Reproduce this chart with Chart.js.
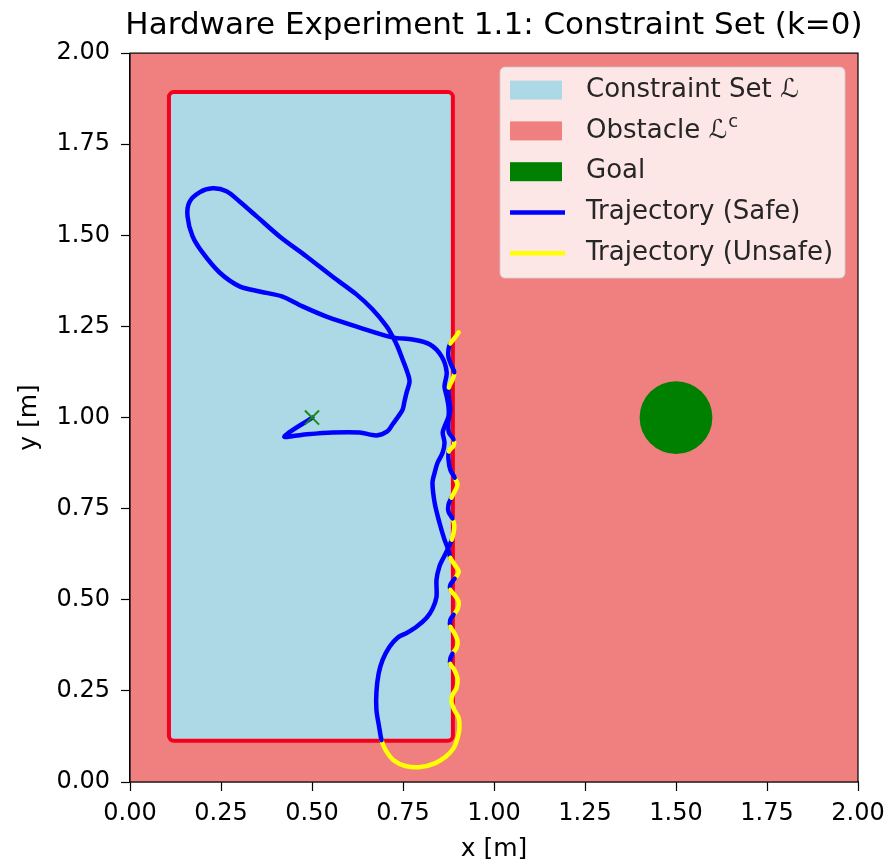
<!DOCTYPE html>
<html>
<head>
<meta charset="utf-8">
<script src="https://cdn.jsdelivr.net/npm/chart.js@4.4.1/dist/chart.umd.min.js"></script>
<style>
  html, body { margin: 0; padding: 0; background: #fff; }
</style>
</head>
<body>
<canvas id="chart" width="893" height="867"></canvas>
<script>
// --- data -----------------------------------------------------------------
const TITLE = 'Hardware Experiment 1.1: Constraint Set (k=0)';
const X_LABEL = 'x [m]';
const Y_LABEL = 'y [m]';
const AXIS_MIN = 0;
const AXIS_MAX = 2;
const TICK_STEP = 0.25;

// constraint set L as [xmin, ymin, xmax, ymax]
const constraintBox = [0.107, 0.113, 0.887, 1.893];
const goalCenter = [1.5, 1.0];
const goalRadius = 0.1;
const startPoint = [0.5, 1.0];

// robot path (x, y) and whether each sample was flagged unsafe
const trajX = [
  0.501, 0.424, 0.474, 0.556, 0.631, 0.677, 0.707, 0.721, 0.735, 0.749,
  0.754, 0.760, 0.768, 0.762, 0.749, 0.735, 0.721, 0.705, 0.666, 0.622,
  0.556, 0.485, 0.411, 0.348, 0.301, 0.265, 0.227, 0.191, 0.163, 0.158,
  0.172, 0.199, 0.246, 0.301, 0.356, 0.419, 0.474, 0.540, 0.631, 0.721,
  0.776, 0.823, 0.856, 0.870, 0.864, 0.870, 0.875, 0.875, 0.864, 0.859,
  0.864, 0.859, 0.845, 0.837, 0.831, 0.837, 0.850, 0.864, 0.875, 0.880,
  0.892, 0.903, 0.892, 0.880, 0.880, 0.891, 0.903, 0.900, 0.889, 0.880,
  0.880, 0.891, 0.900, 0.897, 0.886, 0.880, 0.880, 0.891, 0.900, 0.897,
  0.886, 0.883, 0.891, 0.903, 0.905, 0.900, 0.889, 0.867, 0.839, 0.798,
  0.757, 0.724, 0.702, 0.691,
  0.685, 0.677, 0.677, 0.683, 0.694, 0.713, 0.735, 0.760, 0.787, 0.815,
  0.831, 0.842, 0.842, 0.850, 0.864, 0.875, 0.884,
  0.889, 0.891, 0.886, 0.875, 0.875, 0.883, 0.892, 0.900, 0.892, 0.880,
  0.875, 0.876, 0.889, 0.889, 0.876, 0.875, 0.880, 0.876, 0.876, 0.886,
  0.891, 0.883, 0.875, 0.875, 0.880, 0.891, 0.903
];
const trajY = [
  1.000, 0.948, 0.953, 0.959, 0.959, 0.951, 0.962, 0.981, 1.000, 1.022,
  1.044, 1.069, 1.099, 1.124, 1.159, 1.195, 1.223, 1.250, 1.297, 1.338,
  1.387, 1.442, 1.497, 1.552, 1.593, 1.621, 1.629, 1.618, 1.591, 1.552,
  1.497, 1.453, 1.398, 1.360, 1.346, 1.332, 1.305, 1.277, 1.247, 1.220,
  1.214, 1.201, 1.168, 1.124, 1.085, 1.058, 1.030, 1.003, 0.975, 0.959,
  0.931, 0.904, 0.876, 0.849, 0.821, 0.766, 0.712, 0.665, 0.637, 0.615,
  0.596, 0.577, 0.558, 0.541, 0.527, 0.514, 0.495, 0.475, 0.459, 0.445,
  0.426, 0.409, 0.387, 0.368, 0.352, 0.338, 0.324, 0.308, 0.283, 0.258,
  0.239, 0.220, 0.198, 0.176, 0.148, 0.121, 0.093, 0.069, 0.052, 0.041,
  0.044, 0.060, 0.088, 0.115,
  0.148, 0.198, 0.247, 0.297, 0.335, 0.371, 0.396, 0.409, 0.426, 0.451,
  0.475, 0.508, 0.555, 0.591, 0.621, 0.643, 0.665,
  0.684, 0.703, 0.723, 0.742, 0.761, 0.780, 0.797, 0.816, 0.835, 0.857,
  0.885, 0.907, 0.923, 0.940, 0.959, 0.989, 1.022, 1.055, 1.082, 1.104,
  1.124, 1.143, 1.165, 1.187, 1.203, 1.217, 1.234
];
const trajUnsafe = [
  0, 0, 0, 0, 0, 0, 0, 0, 0, 0,
  0, 0, 0, 0, 0, 0, 0, 0, 0, 0,
  0, 0, 0, 0, 0, 0, 0, 0, 0, 0,
  0, 0, 0, 0, 0, 0, 0, 0, 0, 0,
  0, 0, 0, 0, 0, 0, 0, 0, 0, 0,
  0, 0, 0, 0, 0, 0, 0, 0, 0, 0,
  1, 1, 1, 0, 0, 1, 1, 1, 1, 0,
  0, 1, 1, 1, 1, 0, 0, 1, 1, 1,
  1, 1, 1, 1, 1, 1, 1, 1, 1, 1,
  1, 1, 1, 1,
  0, 0, 0, 0, 0, 0, 0, 0, 0, 0,
  0, 0, 0, 0, 0, 0, 0,
  1, 1, 1, 0, 0, 0, 1, 1, 1, 0,
  0, 0, 1, 1, 0, 0, 0, 0, 0, 1,
  1, 0, 0, 0, 0, 1, 1
];

const legendLabels = ['Constraint Set \u2112', 'Obstacle \u2112', 'Goal', 'Trajectory (Safe)', 'Trajectory (Unsafe)'];
const legendSup = ['', 'c', '', '', ''];
const legendKind = ['patch', 'patch', 'patch', 'line', 'line'];

// --- styling ----------------------------------------------------------------
const FONT = '"DejaVu Sans", Verdana, sans-serif';
const SAFE_COLOR = '#0000ff';
const UNSAFE_COLOR = '#ffff00';
const SET_FILL = '#add8e6';
const SET_EDGE = '#f5001c';
const OBSTACLE_FILL = '#f08080';
const GOAL_FILL = '#008000';
const legendColors = [SET_FILL, OBSTACLE_FILL, GOAL_FILL, SAFE_COLOR, UNSAFE_COLOR];

const trajPoints = trajX.map((x, i) => ({ x: x, y: trajY[i] }));

// obstacle background, constraint rectangle and axes frame
const regionsPlugin = {
  id: 'regions',
  afterLayout(chart) {
    // centre the title over the axes and give it room to overhang them
    const area = chart.chartArea;
    if (chart.titleBlock) {
      const mid = (area.left + area.right) / 2;
      chart.titleBlock.left = mid - 410;
      chart.titleBlock.right = mid + 410;
    }
  },
  beforeDatasetsDraw(chart) {
    const { ctx, chartArea: area, scales } = chart;
    ctx.save();
    ctx.fillStyle = OBSTACLE_FILL;
    ctx.fillRect(area.left, area.top, area.right - area.left, area.bottom - area.top);

    const x0 = scales.x.getPixelForValue(constraintBox[0]);
    const x1 = scales.x.getPixelForValue(constraintBox[2]);
    const y0 = scales.y.getPixelForValue(constraintBox[3]);
    const y1 = scales.y.getPixelForValue(constraintBox[1]);
    ctx.beginPath();
    ctx.roundRect(x0, y0, x1 - x0, y1 - y0, 5);
    ctx.fillStyle = SET_FILL;
    ctx.fill();
    ctx.lineWidth = 4;
    ctx.strokeStyle = SET_EDGE;
    ctx.stroke();
    ctx.restore();
  },
  afterDatasetsDraw(chart) {
    const { ctx, chartArea: area } = chart;
    ctx.save();
    ctx.strokeStyle = '#000';
    ctx.lineWidth = 1.2;
    ctx.strokeRect(area.left, area.top, area.right - area.left, area.bottom - area.top);
    ctx.restore();
  }
};

// matplotlib-like legend box in the upper right of the axes
const legendBoxPlugin = {
  id: 'legendBox',
  afterDraw(chart) {
    const { ctx, chartArea: area } = chart;
    const w = 345, h = 211;
    const left = area.right - 13 - w;
    const top = area.top + 14;
    ctx.save();
    ctx.beginPath();
    ctx.roundRect(left, top, w, h, 5);
    ctx.fillStyle = 'rgba(255,255,255,0.8)';
    ctx.fill();
    ctx.strokeStyle = 'rgba(204,204,204,0.8)';
    ctx.lineWidth = 1;
    ctx.stroke();

    ctx.textBaseline = 'middle';
    ctx.textAlign = 'left';
    legendLabels.forEach((label, i) => {
      const cy = top + 23 + i * 40.8;
      const hx = left + 10;
      if (legendKind[i] === 'patch') {
        ctx.fillStyle = legendColors[i];
        ctx.fillRect(hx, cy - 9.5, 52, 19);
      } else {
        ctx.strokeStyle = legendColors[i];
        ctx.lineWidth = 4.5;
        ctx.beginPath();
        ctx.moveTo(hx, cy);
        ctx.lineTo(hx + 55, cy);
        ctx.stroke();
      }
      ctx.fillStyle = '#262626';
      ctx.font = '26px ' + FONT;
      const tx = left + 86;
      ctx.fillText(label, tx, cy);
      if (legendSup[i]) {
        const wLabel = ctx.measureText(label).width;
        ctx.font = '18px ' + FONT;
        ctx.fillText(legendSup[i], tx + wLabel + 1, cy - 9);
      }
    });
    ctx.restore();
  }
};

const tickFont = { family: FONT, size: 24 };
const labelFont = { family: FONT, size: 25 };

new Chart(document.getElementById('chart'), {
  type: 'scatter',
  data: {
    datasets: [
      {
        label: 'start',
        data: [{ x: startPoint[0], y: startPoint[1] }],
        pointStyle: 'crossRot',
        pointRadius: 10,
        borderColor: '#1a8a1a',
        borderWidth: 2,
        order: 0
      },
      {
        label: 'trajectory',
        data: trajPoints,
        showLine: true,
        pointRadius: 0,
        borderWidth: 4.5,
        borderColor: SAFE_COLOR,
        borderCapStyle: 'round',
        borderJoinStyle: 'round',
        tension: 0.3,
        segment: {
          borderColor: ctx => trajUnsafe[ctx.p1DataIndex] ? UNSAFE_COLOR : SAFE_COLOR
        },
        order: 1
      },
      {
        label: 'goal',
        data: [{ x: goalCenter[0], y: goalCenter[1] }],
        backgroundColor: GOAL_FILL,
        borderWidth: 0,
        pointRadius: ctx => {
          const xs = ctx.chart.scales.x;
          return xs.getPixelForValue(goalCenter[0] + goalRadius) - xs.getPixelForValue(goalCenter[0]);
        },
        order: 2
      }
    ]
  },
  options: {
    responsive: false,
    animation: false,
    events: [],
    devicePixelRatio: 1,
    layout: { padding: { top: 0, right: 35, bottom: 0, left: 0 } },
    plugins: {
      legend: { display: false },
      tooltip: { enabled: false },
      title: {
        display: true,
        text: TITLE,
        color: '#000',
        font: { family: FONT, size: 31, weight: 'normal', lineHeight: 1.1 },
        padding: { top: 9, bottom: 10 }
      }
    },
    scales: {
      x: {
        type: 'linear',
        min: AXIS_MIN,
        max: AXIS_MAX,
        ticks: {
          stepSize: TICK_STEP,
          color: '#000',
          font: tickFont,
          padding: 8,
          maxRotation: 0,
          callback: v => v.toFixed(2)
        },
        grid: { drawOnChartArea: false, drawTicks: true, tickLength: 9, tickColor: '#000', tickWidth: 1.2 },
        border: { display: true, color: '#000', width: 1.2 },
        title: { display: true, text: X_LABEL, color: '#000', font: labelFont, padding: { top: 0, bottom: 3 } },
        afterFit: s => { s.height = 85; }
      },
      y: {
        type: 'linear',
        min: AXIS_MIN,
        max: AXIS_MAX,
        ticks: {
          stepSize: TICK_STEP,
          color: '#000',
          font: tickFont,
          padding: 11,
          callback: v => v.toFixed(2)
        },
        grid: { drawOnChartArea: false, drawTicks: true, tickLength: 9, tickColor: '#000', tickWidth: 1.2 },
        border: { display: true, color: '#000', width: 1.2 },
        title: { display: true, text: Y_LABEL, color: '#000', font: labelFont, padding: { top: 14, bottom: 0 } },
        afterFit: s => { s.width = 130; }
      }
    }
  },
  plugins: [regionsPlugin, legendBoxPlugin]
});
</script>
</body>
</html>
